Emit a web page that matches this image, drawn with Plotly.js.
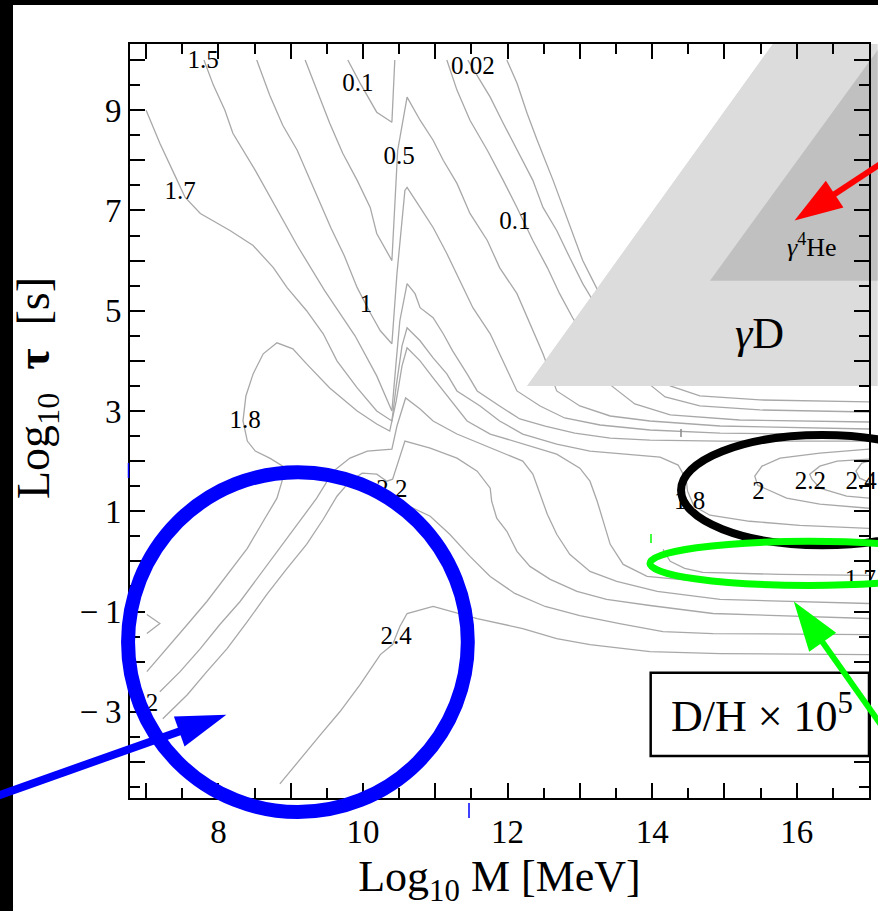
<!DOCTYPE html>
<html><head><meta charset="utf-8">
<script src="https://cdn.plot.ly/plotly-3.0.1.min.js"></script>
<style>html,body{margin:0;padding:0;background:#fff;}#chart{width:878px;height:911px;}</style>
</head><body><div id="chart"></div>
<script>
// ---------------- axes ----------------
const xRange = [6.777, 17.0];
const yRange = [-4.72, 10.32];
const xTickVals = [8, 10, 12, 14, 16];
const xTickText = ['8', '10', '12', '14', '16'];
const xLongTickVals = [7, 9, 11, 13, 15, 17];
const yTickVals = [-3, -1, 1, 3, 5, 7, 9];
const yTickText = ['\u2212\u20093', '\u2212\u20091', '1', '3', '5', '7', '9'];
const yLongTickVals = [-4, -2, 0, 2, 4, 6, 8, 10];

// ---------------- contour lines of D/H x 10^5 (log10 M, log10 tau) ----------------
const c01Left_x = [9.79, 9.96, 10.19, 10.40, 10.44];
const c01Left_y = [10.0, 9.54, 8.96, 8.76, 10.0];

const c05_x = [9.20, 9.36, 9.54, 9.72, 9.92, 10.10, 10.19, 10.40, 10.47, 10.48, 10.61, 10.79, 10.97, 11.11, 11.30, 11.48, 11.72, 11.89, 12.13, 12.31, 12.49, 12.68, 13.00, 13.42, 13.97, 14.94, 17.0];
const c05_y = [10.0, 9.4, 8.74, 8.14, 7.6, 7.06, 6.54, 6.0, 7.74, 8.2, 9.26, 8.8, 8.4, 8.0, 7.54, 6.94, 6.4, 5.86, 5.34, 4.74, 4.14, 3.4, 3.1, 2.9, 2.8, 2.7, 2.64];

const c1_x = [8.53, 8.71, 8.89, 9.09, 9.27, 9.42, 9.56, 9.74, 9.92, 10.10, 10.24, 10.40, 10.47, 10.58, 10.61, 10.79, 10.97, 11.16, 11.34, 11.52, 11.76, 11.94, 12.13, 12.45, 12.79, 13.28, 13.97, 14.94, 17.0];
const c1_y = [10.0, 9.3, 8.7, 8.2, 7.6, 7.1, 6.64, 6.1, 5.46, 4.96, 4.6, 4.34, 5.74, 7.4, 7.46, 7.06, 6.66, 6.14, 5.6, 5.06, 4.54, 4.0, 3.4, 3.1, 2.86, 2.72, 2.62, 2.56, 2.52];

const c15_x = [7.80, 7.93, 8.09, 8.20, 8.51, 8.78, 9.09, 9.47, 9.89, 10.19, 10.40, 10.46, 10.51, 10.61, 10.72, 10.79, 10.97, 11.11, 11.24, 11.44, 11.58, 11.89, 12.17, 12.52, 12.93, 13.42, 13.97, 14.94, 17.0];
const c15_y = [10.0, 9.5, 9.0, 8.54, 7.8, 7.1, 6.3, 5.4, 4.5, 3.7, 3.0, 4.0, 4.8, 5.54, 5.34, 5.06, 4.86, 4.54, 4.2, 3.74, 3.4, 3.1, 2.84, 2.7, 2.56, 2.46, 2.42, 2.4, 2.4];

const c17_x = [7.00, 7.19, 7.43, 7.54, 7.75, 8.16, 8.48, 8.76, 8.95, 9.22, 9.45, 9.64, 9.92, 10.19, 10.40, 10.46, 10.54, 10.61, 10.79, 10.97, 11.16, 11.30, 11.62, 11.89, 12.21, 12.68, 13.14, 13.69, 14.11, 14.36, 14.47, 14.49, 14.58, 14.80, 15.35, 16.04, 17.0];
const c17_y = [9.0, 8.34, 7.6, 7.26, 6.94, 6.6, 6.3, 5.86, 5.46, 5.0, 4.54, 4.0, 3.46, 3.0, 2.8, 3.5, 4.3, 4.66, 4.4, 4.06, 3.74, 3.4, 3.1, 2.8, 2.54, 2.34, 2.2, 2.14, 2.08, 1.92, 1.64, 1.4, 1.1, 0.92, 0.8, 0.72, 0.66];

const c18_x = [7.01, 7.29, 7.57, 7.84, 8.12, 8.40, 8.62, 8.81, 8.88, 8.89, 8.71, 8.51, 8.40, 8.34, 8.38, 8.48, 8.62, 8.81, 9.03, 9.22, 9.54, 9.92, 10.19, 10.37, 10.46, 10.54, 10.61, 10.79, 10.97, 11.11, 11.27, 11.44, 11.76, 12.21, 12.68, 13.00, 13.14, 13.24, 13.32, 13.42, 13.60, 13.93, 14.66, 15.77, 17.0];
const c18_y = [-2.2, -1.74, -1.26, -0.8, -0.26, 0.26, 0.8, 1.26, 1.6, 1.9, 2.06, 2.2, 2.4, 2.8, 3.3, 3.74, 4.14, 4.36, 4.24, 3.94, 3.46, 3.0, 2.74, 2.6, 3.2, 3.9, 4.26, 4.0, 3.66, 3.4, 3.1, 2.8, 2.54, 2.34, 2.14, 1.86, 1.6, 1.2, 0.8, 0.34, -0.06, -0.3, -0.4, -0.44, -0.46];

const c20_x = [7.19, 7.47, 7.75, 8.02, 8.30, 8.58, 8.85, 9.13, 9.36, 9.59, 9.82, 10.06, 10.40, 10.47, 10.54, 10.59, 10.79, 10.97, 11.30, 11.76, 12.21, 12.35, 12.45, 12.55, 12.68, 12.86, 13.14, 13.51, 14.07, 14.94, 17.0];
const c20_y = [-2.6, -2.2, -1.74, -1.26, -0.8, -0.26, 0.26, 0.8, 1.26, 1.8, 2.06, 2.2, 2.24, 2.7, 3.0, 3.26, 3.04, 2.8, 2.54, 2.26, 2.0, 1.74, 1.34, 0.94, 0.54, 0.14, -0.2, -0.4, -0.6, -0.76, -0.84];

const c22_x = [7.23, 7.57, 7.84, 8.12, 8.40, 8.67, 8.95, 9.22, 9.45, 9.64, 9.82, 9.99, 10.19, 10.33, 10.41, 10.51, 10.58, 10.93, 11.30, 11.58, 11.76, 11.78, 11.85, 11.99, 12.13, 12.31, 12.59, 12.96, 13.37, 13.97, 14.84, 17.0];
const c22_y = [-3.14, -2.66, -2.2, -1.74, -1.2, -0.66, -0.14, 0.34, 0.84, 1.3, 1.6, 1.76, 1.74, 1.6, 1.64, 2.1, 2.4, 2.26, 2.06, 1.8, 1.46, 1.2, 0.86, 0.6, 0.2, -0.1, -0.36, -0.6, -0.76, -0.88, -1.04, -1.14];

const c23_x = [10.58, 10.93, 11.20, 11.48, 11.76, 12.10, 12.52, 13.00, 13.55, 14.15, 14.84, 17.0];
const c23_y = [1.14, 0.9, 0.54, 0.1, -0.3, -0.64, -0.9, -1.08, -1.24, -1.4, -1.44, -1.46];

const c24_x = [8.85, 9.13, 9.41, 9.68, 9.96, 10.24, 10.41, 10.51, 10.61, 10.97, 11.24, 11.58, 12.21, 12.68, 13.14, 13.97, 14.94, 17.0];
const c24_y = [-4.44, -3.94, -3.46, -3.0, -2.46, -1.86, -1.66, -1.3, -1.04, -0.9, -1.0, -1.14, -1.34, -1.54, -1.66, -1.8, -1.84, -1.86];

const c01Right_x = [11.16, 11.30, 11.48, 11.72, 11.94, 12.13, 12.35, 12.55, 12.72, 12.90, 13.10, 13.28, 13.44, 13.76, 14.25, 15.21, 17.0];
const c01Right_y = [10.0, 9.4, 8.8, 8.2, 7.6, 7.06, 6.4, 5.86, 5.34, 4.86, 4.4, 3.86, 3.5, 3.14, 2.92, 2.82, 2.78];

const c002_x = [11.45, 11.59, 11.76, 11.94, 12.13, 12.35, 12.49, 12.68, 12.86, 13.04, 13.24, 13.42, 13.65, 13.87, 14.18, 14.66, 15.49, 17.0];
const c002_y = [10.0, 9.66, 9.26, 8.74, 8.2, 7.6, 7.06, 6.6, 6.06, 5.54, 5.06, 4.54, 4.06, 3.64, 3.28, 3.1, 3.02, 2.98];

const c001_x = [11.99, 12.13, 12.27, 12.41, 12.63, 12.77, 12.90, 13.04, 13.18, 13.32, 13.55, 13.90, 14.25, 14.66, 15.49, 17.0];
const c001_y = [10.0, 9.54, 8.94, 8.4, 7.6, 7.06, 6.54, 6.0, 5.6, 5.2, 4.6, 3.9, 3.5, 3.3, 3.22, 3.18];

const loop20_x = [17.0, 16.32, 15.77, 15.52, 15.42, 15.46, 15.86, 16.32, 17.0];
const loop20_y = [2.24, 2.16, 2.06, 1.9, 1.7, 1.52, 1.26, 1.14, 1.06];
const loop22_x = [17.0, 16.56, 16.32, 16.18, 16.21, 16.32, 16.69, 17.0];
const loop22_y = [2.04, 2.0, 1.9, 1.74, 1.64, 1.46, 1.3, 1.26];
const loop24_x = [17.0, 16.90, 16.82, 16.87, 17.0];
const loop24_y = [2.0, 1.96, 1.8, 1.66, 1.58];
const loop17_x = [14.15, 14.25, 14.45, 14.70, 15.77, 17.0];
const loop17_y = [0.24, 0.0, -0.14, -0.22, -0.26, -0.28];
const smallV_x = [7.01, 7.19, 7.01];
const smallV_y = [-1.06, -1.24, -1.44];

// contour labels
const labelText = ['1.5', '0.1', '0.02', '0.5', '1.7', '0.1', '1', '1.8', '2.2', '2.4', '2', '1.8', '2', '2.2', '2.4', '1.7'];
const labelX = [7.79, 9.93, 11.52, 10.50, 7.47, 12.10, 10.04, 8.37, 10.40, 10.46, 7.08, 14.52, 15.47, 16.19, 16.89, 16.88];
const labelY = [9.96, 9.5, 9.84, 8.06, 7.36, 6.76, 5.1, 2.78, 1.4, -1.52, -2.86, 1.16, 1.36, 1.56, 1.56, -0.38];

// shaded regions (photo-dissociation)
const gammaD_x = [12.27, 15.67, 17.12, 17.12];
const gammaD_y = [3.5, 10.32, 10.32, 3.5];
const gammaHe_x = [14.80, 17.12, 17.12];
const gammaHe_y = [5.6, 10.2, 5.6];

// ---------------- overlay geometry (axis units) ----------------
const blueRing = {cx: 9.10, cy: -1.61, rx: 2.35, ry: 3.39};
const blackRing = {cx: 16.35, cy: 1.42, rx: 1.95, ry: 1.10};
const greenRing = {cx: 16.17, cy: -0.04, rx: 2.20, ry: 0.44};
const redArrow = {tail: [17.57, 8.32], tip: [15.97, 6.8]};
const blueArrow = {tail: [4.70, -4.8], tip: [8.11, -3.06]};
const greenArrow = {tail: [17.43, -3.8], tip: [15.96, -0.8]};
const boxDH = {x0: 13.98, x1: 17.0, y0: -3.88, y1: -2.22};

// ---------------- helpers ----------------
const M = {l: 130, r: 9, t: 44, b: 113};
const W = 878, H = 911;
const PW = W - M.l - M.r, PH = H - M.t - M.b;
const px = x => (x - xRange[0]) / (xRange[1] - xRange[0]);
const py = y => (y - yRange[0]) / (yRange[1] - yRange[0]);
const pixX = x => M.l + px(x) * PW;
const pixY = y => M.t + (1 - py(y)) * PH;
const fromPix = (X, Y) => [(X - M.l) / PW, 1 - (Y - M.t) / PH];

function ring(r, color, width) {
  return {type: 'circle', xref: 'paper', yref: 'paper', layer: 'above',
    x0: px(r.cx - r.rx), x1: px(r.cx + r.rx), y0: py(r.cy - r.ry), y1: py(r.cy + r.ry),
    line: {color: color, width: width}};
}
function arrow(a, color, shaftW, headLen, headW) {
  const x0 = pixX(a.tail[0]), y0 = pixY(a.tail[1]), x1 = pixX(a.tip[0]), y1 = pixY(a.tip[1]);
  const L = Math.hypot(x1 - x0, y1 - y0), ux = (x1 - x0) / L, uy = (y1 - y0) / L;
  const bx = x1 - ux * headLen, by = y1 - uy * headLen, nx = -uy, ny = ux;
  const t = fromPix(x1, y1), k1 = fromPix(bx + nx * headW / 2, by + ny * headW / 2), k2 = fromPix(bx - nx * headW / 2, by - ny * headW / 2);
  const s0 = fromPix(x0, y0), s1 = fromPix(bx + ux * 3, by + uy * 3);
  return [
    {type: 'line', xref: 'paper', yref: 'paper', layer: 'above', x0: s0[0], y0: s0[1], x1: s1[0], y1: s1[1], line: {color: color, width: shaftW}},
    {type: 'path', xref: 'paper', yref: 'paper', layer: 'above', path: `M${t[0]},${t[1]} L${k1[0]},${k1[1]} L${k2[0]},${k2[1]} Z`, fillcolor: color, line: {width: 0}}
  ];
}
function polyPath(xs, ys) {
  return xs.map((x, i) => (i ? 'L' : 'M') + px(x) + ',' + py(ys[i])).join(' ') + ' Z';
}
function mark(X, Y0, Y1, color, w) {
  const a = fromPix(X, Y0), b = fromPix(X, Y1);
  return {type: 'line', xref: 'paper', yref: 'paper', layer: 'above', x0: a[0], y0: a[1], x1: b[0], y1: b[1], line: {color: color, width: w}};
}

// ---------------- traces ----------------
const lines = [
  [c01Left_x, c01Left_y], [c05_x, c05_y], [c1_x, c1_y], [c15_x, c15_y], [c17_x, c17_y],
  [c18_x, c18_y], [c20_x, c20_y], [c22_x, c22_y], [c23_x, c23_y], [c24_x, c24_y],
  [c01Right_x, c01Right_y], [c002_x, c002_y], [c001_x, c001_y],
  [loop20_x, loop20_y], [loop22_x, loop22_y], [loop24_x, loop24_y], [loop17_x, loop17_y], [smallV_x, smallV_y]
];
const traces = lines.map(([x, y]) => ({type: 'scatter', mode: 'lines', x: x, y: y,
  line: {color: '#a8a8a8', width: 1.3}, hoverinfo: 'skip', showlegend: false}));
traces.push({type: 'scatter', mode: 'lines', x: gammaD_x, y: gammaD_y, fill: 'toself', fillcolor: '#dcdcdc',
  line: {width: 0, color: '#dcdcdc'}, hoverinfo: 'skip', showlegend: false});
traces.push({type: 'scatter', mode: 'lines', x: gammaHe_x, y: gammaHe_y, fill: 'toself', fillcolor: '#c0c0c0',
  line: {width: 0, color: '#c0c0c0'}, hoverinfo: 'skip', showlegend: false});
traces.push({type: 'scatter', mode: 'text', x: labelX, y: labelY, text: labelText, cliponaxis: false,
  textfont: {family: 'Liberation Serif', size: 25, color: '#000'}, hoverinfo: 'skip', showlegend: false});
// carrier trace for the overlay axes that draw the long unlabeled ticks
traces.push({type: 'scatter', mode: 'markers', x: [10], y: [0], xaxis: 'x2', yaxis: 'y2',
  marker: {opacity: 0, size: 1}, hoverinfo: 'skip', showlegend: false});

// ---------------- layout ----------------
const serif = 'Liberation Serif';
const axisCommon = {
  showgrid: false, zeroline: false, showline: true, linecolor: '#000', linewidth: 2, mirror: 'ticks',
  ticks: 'inside', ticklen: 15, tickwidth: 2, tickcolor: '#000', tickmode: 'array',
  tickfont: {family: serif, size: 33, color: '#000'},
  minor: {dtick: 0.5, tick0: 0, ticks: 'inside', ticklen: 10, tickwidth: 2, tickcolor: '#000', showgrid: false}
};
const overlayAxis = {
  showgrid: false, zeroline: false, showline: false, mirror: 'ticks', ticks: 'inside', ticklen: 15,
  tickwidth: 2, tickcolor: '#000', tickmode: 'array', showticklabels: false
};
const shapes = [
  {type: 'rect', xref: 'paper', yref: 'paper', layer: 'below', x0: -0.2, x1: fromPix(13, 0)[0], y0: -0.3, y1: 1.2, fillcolor: '#000', line: {width: 0}},
  {type: 'rect', xref: 'paper', yref: 'paper', layer: 'below', x0: -0.2, x1: 1.2, y0: fromPix(0, 5)[1], y1: 1.2, fillcolor: '#000', line: {width: 0}},
  {type: 'path', xref: 'paper', yref: 'paper', layer: 'below', path: polyPath(gammaD_x, gammaD_y), fillcolor: '#dcdcdc', line: {width: 0}},
  {type: 'path', xref: 'paper', yref: 'paper', layer: 'below', path: polyPath(gammaHe_x, gammaHe_y), fillcolor: '#c0c0c0', line: {width: 0}},
  {type: 'rect', xref: 'x', yref: 'y', layer: 'above', x0: boxDH.x0, x1: boxDH.x1, y0: boxDH.y0, y1: boxDH.y1, fillcolor: '#fff', line: {color: '#000', width: 2.5}},
  ring(blueRing, '#0000ff', 14),
  ring(blackRing, '#000000', 8),
  ring(greenRing, '#00ff00', 7),
  ...arrow(redArrow, '#ff0000', 6, 48, 32),
  ...arrow(blueArrow, '#0000ff', 8, 50, 32),
  ...arrow(greenArrow, '#00ff00', 6, 50, 33),
  mark(128.5, 463, 478, '#0000ff', 1.5),
  mark(469, 803, 818, '#0000ff', 1.5),
  mark(651, 534, 543, '#00ff00', 1.5),
  mark(681, 429, 437, '#888888', 1.5)
];
const layout = {
  width: W, height: H, margin: M, paper_bgcolor: '#fff', plot_bgcolor: '#fff',
  font: {family: serif, color: '#000'}, showlegend: false,
  xaxis: Object.assign({}, axisCommon, {range: xRange, tickvals: xTickVals, ticktext: xTickText, ticklabelstandoff: 3,
    title: {text: 'Log<sub>10</sub> M [MeV]', font: {family: serif, size: 44, color: '#000'}, standoff: 12}}),
  yaxis: Object.assign({}, axisCommon, {range: yRange, tickvals: yTickVals, ticktext: yTickText, ticklabelstandoff: 0}),
  xaxis2: Object.assign({}, overlayAxis, {overlaying: 'x', anchor: 'y', side: 'bottom', range: xRange, tickvals: xLongTickVals}),
  yaxis2: Object.assign({}, overlayAxis, {overlaying: 'y', anchor: 'x', side: 'left', range: yRange, tickvals: yLongTickVals}),
  shapes: shapes,
  annotations: [
    {xref: 'paper', yref: 'paper', x: fromPix(37, 0)[0], y: fromPix(0, 388)[1], text: 'Log<sub>10</sub>\u2002<b>τ</b>\u2002[s]',
      textangle: -90, showarrow: false, xanchor: 'center', yanchor: 'middle', font: {family: serif, size: 46, color: '#000'}},
    {xref: 'x', yref: 'y', x: 15.49, y: 4.54, text: '<i>γ</i>D', showarrow: false, font: {family: serif, size: 44, color: '#000'}},
    {xref: 'x', yref: 'y', x: 16.21, y: 6.3, text: '<i>γ</i><sup>4</sup>He', showarrow: false, font: {family: serif, size: 26, color: '#000'}},
    {xref: 'x', yref: 'y', x: 15.52, y: -3.04, text: 'D/H × 10<sup>5</sup>', showarrow: false, font: {family: serif, size: 44, color: '#000'}}
  ]
};
Plotly.newPlot('chart', traces, layout, {staticPlot: true});
</script></body></html>
